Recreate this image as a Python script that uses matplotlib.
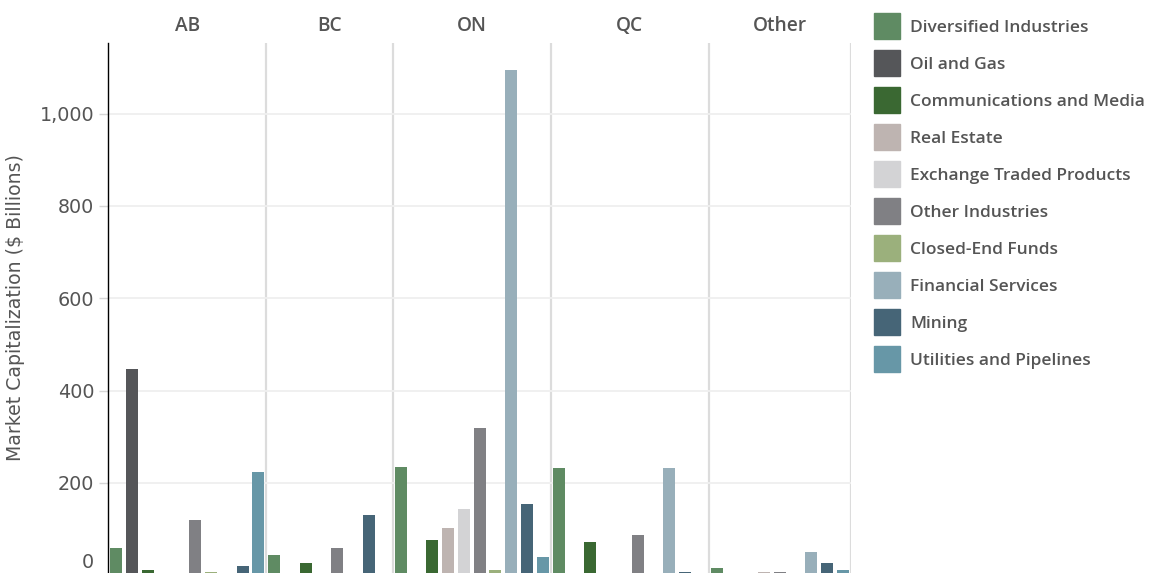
import matplotlib
matplotlib.use("Agg")
import matplotlib.pyplot as plt
from matplotlib.patches import Rectangle
import matplotlib.transforms as mtransforms
import numpy as np

nan = np.nan

provinces = ["AB", "BC", "ON", "QC", "Other"]
industries = ["Diversified Industries", "Oil and Gas", "Communications and Media",
              "Real Estate", "Exchange Traded Products", "Other Industries",
              "Closed-End Funds", "Financial Services", "Mining", "Utilities and Pipelines"]
colors = ["#5f8b63", "#555659", "#3a6832", "#beb4b1", "#d3d3d5",
          "#808084", "#9bb07c", "#98afba", "#466577", "#6797a7"]

# market cap in $ billions, nan = industry not present in that province
ab_vals = [59, 447, 11, 1, 1, 120, 8, 1, 20, 224]
bc_vals = [44, 1, 27, 1, nan, 59, nan, 1, 131, 1]
on_vals = [235, 1, 76, 103, 144, 319, 11, 1095, 154, 40]
qc_vals = [232, 1, 72, 1, 1, 87, 1, 232, 7, 1]
other_vals = [16, 1, 1, 7, nan, 7, 1, 50, 27, 11]
all_vals = [ab_vals, bc_vals, on_vals, qc_vals, other_vals]

txt = "#555555"
W, H = 1155, 573
fig = plt.figure(figsize=(W / 100, H / 100), dpi=100)
ax = fig.add_axes([108.3 / W, -2.3 / H, (851 - 108.3) / W, (575.3 - 43) / H])

start = 0
bounds = []
centers = []
for vals in all_vals:
    k = 0
    for j, v in enumerate(vals):
        if np.isnan(v):
            continue
        ax.bar(start + k + 0.5, v, width=0.76, color=colors[j], zorder=3)
        k += 1
    centers.append(start + k / 2)
    start += k
    bounds.append(start)

ax.set_xlim(0, start)
ax.set_ylim(0, 1153)
for b in bounds:
    ax.axvline(b, color="#dcdcdc", lw=1.6, zorder=1)

ax.set_yticks([200, 400, 600, 800, 1000])
ax.set_yticklabels(["200", "400", "600", "800", "1,000"])
ax.yaxis.grid(True, color="#efefef", lw=1.3, zorder=0)
ax.set_xticks([])
for s in ["top", "right", "bottom"]:
    ax.spines[s].set_visible(False)
ax.spines["left"].set_color("black")
ax.spines["left"].set_linewidth(1.0)
ax.tick_params(axis="y", length=6.5, width=1, color="#d6d6d6", pad=3.5,
               labelsize=13.8, labelcolor=txt)
ax.annotate("0", xy=(0, 0), xycoords=("axes fraction", "data"),
            xytext=(-10.2, 8.9), textcoords="offset points",
            ha="right", va="center", fontsize=13.8, color=txt)

ax.set_ylabel(r"Market Capitalization (\$ Billions)", fontsize=13.6, color=txt)
ax.yaxis.set_label_coords(-0.112, 0.503)

hdr = mtransforms.blended_transform_factory(ax.transData, fig.transFigure)
for name, c in zip(provinces, centers):
    ax.text(c, 1 - 26 / H, name, transform=hdr, ha="center", va="center",
            fontsize=13.8, color=txt, family="Open Sans", fontweight="semibold")

# legend
for i, (lab, col) in enumerate(zip(industries, colors)):
    top = 13 + 37 * i
    fig.patches.append(Rectangle((874 / W, 1 - (top + 26) / H), 26 / W, 26 / H,
                                 transform=fig.transFigure, color=col, figure=fig))
    fig.text(910 / W, 1 - (top + 19) / H, lab, ha="left", va="baseline",
             fontsize=12.5, color=txt, family="Open Sans", fontweight="semibold")

fig.savefig("out.png", dpi=100)
